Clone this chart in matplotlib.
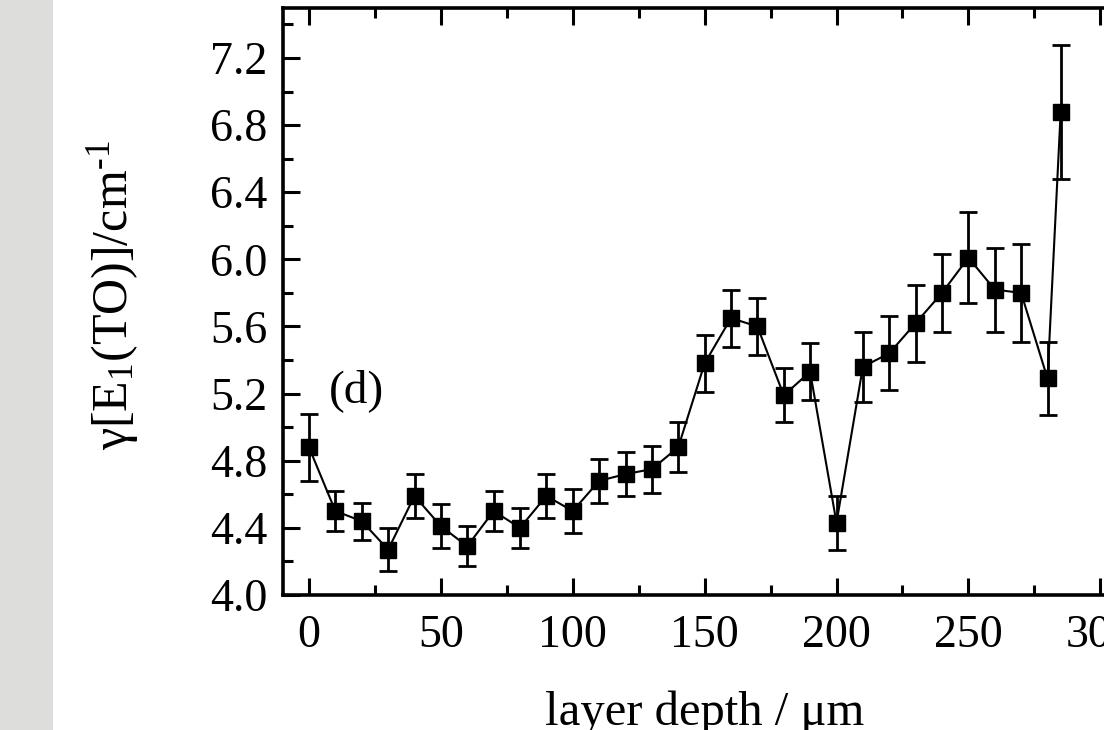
import matplotlib
matplotlib.use('Agg')
import matplotlib.pyplot as plt
from matplotlib.patches import Rectangle
from matplotlib.ticker import MultipleLocator

plt.rcParams['font.family'] = ['Liberation Serif', 'DejaVu Serif']
plt.rcParams['mathtext.fontset'] = 'custom'
plt.rcParams['mathtext.rm'] = 'Liberation Serif'
plt.rcParams['mathtext.it'] = 'Liberation Serif:italic'
plt.rcParams['mathtext.default'] = 'regular'

# layer depth (um) and damping constant values
depth = [0, 10, 20, 30, 40, 50, 60, 70, 80, 90, 100, 110, 120, 130, 140,
         150, 160, 170, 180, 190, 200, 210, 220, 230, 240, 250, 260, 270, 280, 285]
gamma = [4.88, 4.50, 4.44, 4.27, 4.59, 4.41, 4.29, 4.50, 4.40, 4.59, 4.50, 4.68, 4.72, 4.75, 4.88,
         5.38, 5.65, 5.60, 5.19, 5.33, 4.43, 5.36, 5.44, 5.62, 5.80, 6.01, 5.82, 5.80, 5.29, 6.88]
err = [0.20, 0.12, 0.11, 0.13, 0.13, 0.13, 0.12, 0.12, 0.12, 0.13, 0.13, 0.13, 0.13, 0.14, 0.15,
       0.17, 0.17, 0.17, 0.16, 0.17, 0.16, 0.21, 0.22, 0.23, 0.23, 0.27, 0.25, 0.29, 0.22, 0.40]

fig = plt.figure(figsize=(11.04, 7.3), dpi=100)
fig.patches.append(Rectangle((0, 0), 53 / 1104, 1, transform=fig.transFigure,
                             facecolor='#dddddb', edgecolor='none', zorder=-1))

ax = fig.add_axes([0.256, 0.185, 0.7645, 0.8045])

ax.errorbar(depth, gamma, yerr=err, fmt='s-', color='black', ms=12, lw=1.5,
            elinewidth=2.0, capsize=6.2, capthick=2.0)

ax.set_xlim(-10, 310)
ax.set_ylim(4.0, 7.5)
ax.xaxis.set_major_locator(MultipleLocator(50))
ax.xaxis.set_minor_locator(MultipleLocator(25))
ax.yaxis.set_major_locator(MultipleLocator(0.4))
ax.yaxis.set_minor_locator(MultipleLocator(0.2))
ax.yaxis.set_major_formatter(matplotlib.ticker.FormatStrFormatter('%.1f'))

ax.tick_params(which='both', direction='in', top=True, right=True, width=2.2, labelsize=33)
ax.tick_params(which='major', length=12)
ax.tick_params(which='minor', length=7)
ax.tick_params(axis='y', pad=11)
ax.tick_params(axis='x', pad=14)
for s in ax.spines.values():
    s.set_linewidth(2.6)

ax.set_xlabel('layer depth / μm', fontsize=35)
ax.xaxis.set_label_coords(0.5, -0.1634)
ax.set_ylabel('γ[E$_1$(TO)]/cm$^{\u2010 1}$', fontsize=36)
ax.yaxis.set_label_coords(-0.1678, 0.51)

ax.text(7.7, 5.22, '(d)', fontsize=34, ha='left', va='center')

fig.savefig('out.png', dpi=100)
